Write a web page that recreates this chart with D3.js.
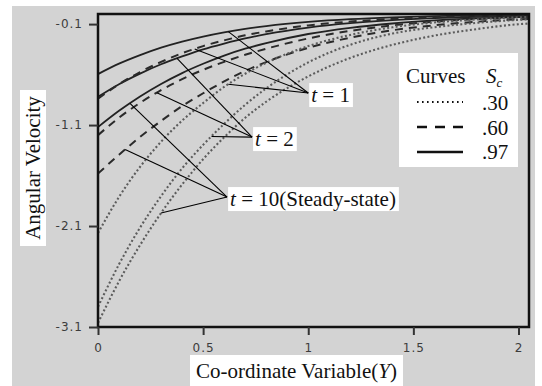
<!DOCTYPE html>
<html><head><meta charset="utf-8">
<script src="https://cdn.jsdelivr.net/npm/d3@7"></script>
<style>body{margin:0;background:#fff}svg{display:block}</style>
</head><body>
<svg id="c" width="542" height="386"></svg>
<script>
// ---- data ----
const yCoord = [0, 0.1, 0.2, 0.3, 0.4, 0.5, 0.6, 0.7, 0.8, 1.0, 1.2, 1.4, 1.6, 1.8, 2.0, 2.05];
const sc97_t1  = [-0.595,-0.492,-0.407,-0.333,-0.273,-0.223,-0.181,-0.147,-0.120,-0.079,-0.051,-0.033,-0.021,-0.014,-0.009,-0.008];
const sc97_t2  = [-0.82,-0.695,-0.590,-0.498,-0.420,-0.350,-0.293,-0.242,-0.200,-0.135,-0.091,-0.061,-0.041,-0.027,-0.018,-0.016];
const sc97_t10 = [-1.12,-0.959,-0.817,-0.693,-0.585,-0.493,-0.412,-0.344,-0.288,-0.198,-0.137,-0.094,-0.064,-0.044,-0.030,-0.027];
const sc60_t1  = [-0.84,-0.695,-0.575,-0.475,-0.389,-0.318,-0.261,-0.211,-0.173,-0.113,-0.075,-0.049,-0.032,-0.021,-0.014,-0.012];
const sc60_t2  = [-1.2,-1.027,-0.880,-0.754,-0.646,-0.553,-0.474,-0.404,-0.344,-0.242,-0.167,-0.113,-0.076,-0.051,-0.034,-0.031];
const sc60_t10 = [-1.58,-1.394,-1.218,-1.059,-0.912,-0.785,-0.668,-0.564,-0.476,-0.335,-0.234,-0.161,-0.112,-0.077,-0.053,-0.049];
const sc30_t1  = [-2.17,-1.812,-1.514,-1.265,-1.056,-0.882,-0.722,-0.592,-0.484,-0.318,-0.207,-0.132,-0.084,-0.054,-0.033,-0.030];
const sc30_t2  = [-2.9,-2.479,-2.116,-1.804,-1.529,-1.296,-1.088,-0.899,-0.737,-0.479,-0.305,-0.194,-0.131,-0.088,-0.058,-0.053];
const sc30_t10 = [-3.06,-2.647,-2.289,-1.971,-1.689,-1.438,-1.221,-1.028,-0.869,-0.618,-0.435,-0.306,-0.214,-0.150,-0.101,-0.094];
const xTicks = [0, 0.5, 1, 1.5, 2];
const xTickLabels = ["0", "0.5", "1", "1.5", "2"];
const yTicks = [-0.1, -1.1, -2.1, -3.1];
const yTickLabels = ["-0.1", "-1.1", "-2.1", "-3.1"];
const legendLabels = [".30", ".60", ".97"];
const legendStyles = ["dot", "dash", "solid"];
// annotation: label, label tip (Y, value), anchors [curve, Y]
const annLabels = ["t = 1", "t = 2", "t = 10(Steady-state)"];
const annTipY = [1.0, 0.733, 0.614];
const annTipV = [-0.783, -1.219, -1.813];
const annAnchors = [
  [["sc97_t1",0.62],["sc60_t1",0.46],["sc30_t1",0.62]],
  [["sc97_t2",0.376],["sc60_t2",0.28],["sc30_t2",0.54]],
  [["sc97_t10",0.152],["sc60_t10",0.129],["sc30_t10",0.30]]
];

const series = {
  sc97_t1:{v:sc97_t1,s:"solid"}, sc97_t2:{v:sc97_t2,s:"solid"}, sc97_t10:{v:sc97_t10,s:"solid"},
  sc60_t1:{v:sc60_t1,s:"dash"}, sc60_t2:{v:sc60_t2,s:"dash"}, sc60_t10:{v:sc60_t10,s:"dash"},
  sc30_t1:{v:sc30_t1,s:"dot"}, sc30_t2:{v:sc30_t2,s:"dot"}, sc30_t10:{v:sc30_t10,s:"dot"}
};

const svg = d3.select("#c");
const L=98, R=529, T=14, B=327;
const x = d3.scaleLinear().domain([0,2.05]).range([L,R]);
const y = d3.scaleLinear().domain([-3.1,0]).range([B,T]);
const serif = "'Liberation Serif','Times New Roman',serif";
const sans = "'DejaVu Sans',Verdana,sans-serif";

svg.append("rect").attr("x",12).attr("y",6).attr("width",523).attr("height",380).attr("fill","#d3d3d3");

svg.append("defs").append("clipPath").attr("id","clip").append("rect")
  .attr("x",L).attr("y",T).attr("width",R-L).attr("height",B-T);

const styleOf = {
  solid:{dash:null,w:1.8,c:"#222",cap:"butt"},
  dash:{dash:"8,6",w:2,c:"#2a2a2a",cap:"butt"},
  dot:{dash:"2,2.3",w:2.1,c:"#5c5c5c",cap:"butt"}
};
const line = d3.line().x((d,i)=>x(yCoord[i])).y(d=>y(d)).curve(d3.curveMonotoneX);
const g = svg.append("g").attr("clip-path","url(#clip)");
Object.keys(series).forEach(k=>{
  const st = styleOf[series[k].s];
  g.append("path").attr("d",line(series[k].v)).attr("fill","none")
   .attr("stroke",st.c).attr("stroke-width",st.w).attr("stroke-dasharray",st.dash)
   .attr("stroke-linecap",st.cap);
});

// frame
svg.append("rect").attr("x",L).attr("y",T).attr("width",R-L).attr("height",B-T)
  .attr("fill","none").attr("stroke","#111").attr("stroke-width",2.5);

// axes
const xAxis = svg.append("g").attr("transform",`translate(0,${B})`)
  .call(d3.axisBottom(x).tickValues(xTicks).tickFormat((d,i)=>xTickLabels[i]).tickSize(8).tickPadding(8));
const yAxis = svg.append("g").attr("transform",`translate(${L},0)`)
  .call(d3.axisLeft(y).tickValues(yTicks).tickFormat((d,i)=>yTickLabels[i]).tickSize(9).tickPadding(6));
[xAxis,yAxis].forEach(a=>{
  a.select(".domain").remove();
  a.selectAll(".tick line").attr("stroke","#333").attr("stroke-width",2);
  a.selectAll(".tick text").attr("fill","#3c3c3c").style("font-family",sans).style("font-size","12px").style("letter-spacing","1px");
});

// interpolate value on a curve at Y
function valAt(arr, Y){
  const i = Math.max(1, d3.bisectLeft(yCoord, Y));
  const t = (Y - yCoord[i-1])/(yCoord[i]-yCoord[i-1]);
  return arr[i-1] + t*(arr[i]-arr[i-1]);
}

// annotations
annLabels.forEach((lab,j)=>{
  const tx = x(annTipY[j]), ty = y(annTipV[j]);
  annAnchors[j].forEach(([k,Y])=>{
    svg.append("line").attr("x1",x(Y)).attr("y1",y(valAt(series[k].v,Y)))
      .attr("x2",tx).attr("y2",ty).attr("stroke","#000").attr("stroke-width",1.1);
  });
  const gt = svg.append("g");
  const rect = gt.append("rect").attr("fill","#fff");
  const t = gt.append("text").attr("x",tx+3).attr("y",ty+9)
    .style("font-family",serif).style("font-size","21px").attr("fill","#111");
  const m = lab.match(/^t( = .*)$/);
  t.append("tspan").style("font-style","italic").text("t");
  t.append("tspan").text(m[1]);
  const bb = t.node().getBBox();
  rect.attr("x",bb.x-2).attr("y",ty-10).attr("width",bb.width+5).attr("height",24);
});

// axis titles
const xt = svg.append("g");
xt.append("rect").attr("x",190).attr("y",355).attr("width",213).attr("height",31).attr("fill","#fff");
const xtt = xt.append("text").attr("x",296.5).attr("y",378).attr("text-anchor","middle")
  .style("font-family",serif).style("font-size","21px").attr("fill","#111");
xtt.append("tspan").text("Co-ordinate Variable(");
xtt.append("tspan").style("font-style","italic").text("Y");
xtt.append("tspan").text(")");

const yt = svg.append("g");
yt.append("rect").attr("x",20).attr("y",90).attr("width",26).attr("height",156).attr("fill","#fff");
yt.append("text").attr("transform","translate(40,168) rotate(-90)").attr("text-anchor","middle")
  .style("font-family",serif).style("font-size","21px").attr("fill","#111").text("Angular Velocity");

// legend
const lg = svg.append("g");
lg.append("rect").attr("x",399).attr("y",53).attr("width",119).attr("height",114).attr("fill","#fff");
lg.append("text").attr("x",406).attr("y",83).style("font-family",serif).style("font-size","21px").attr("fill","#111").text("Curves");
const sct = lg.append("text").attr("x",486).attr("y",83).style("font-family",serif).style("font-size","21px").attr("fill","#111");
sct.append("tspan").style("font-style","italic").text("S");
sct.append("tspan").style("font-style","italic").style("font-size","13px").attr("dy",4).text("c");
const legY = [102,127,152], legBase=[110,135,159];
const legStyle = {
  dot:{dash:"1.6,3.4",w:2,c:"#111"},
  dash:{dash:"10,8",w:2.5,c:"#111"},
  solid:{dash:null,w:2.5,c:"#111"}
};
legendLabels.forEach((lab,i)=>{
  const st = legStyle[legendStyles[i]];
  lg.append("line").attr("x1",417).attr("x2",463).attr("y1",legY[i]).attr("y2",legY[i])
    .attr("stroke",st.c).attr("stroke-width",st.w).attr("stroke-dasharray",st.dash);
  lg.append("text").attr("x",482).attr("y",legBase[i]).style("font-family",serif).style("font-size","21px").attr("fill","#111").text(lab);
});
</script>
</body></html>
